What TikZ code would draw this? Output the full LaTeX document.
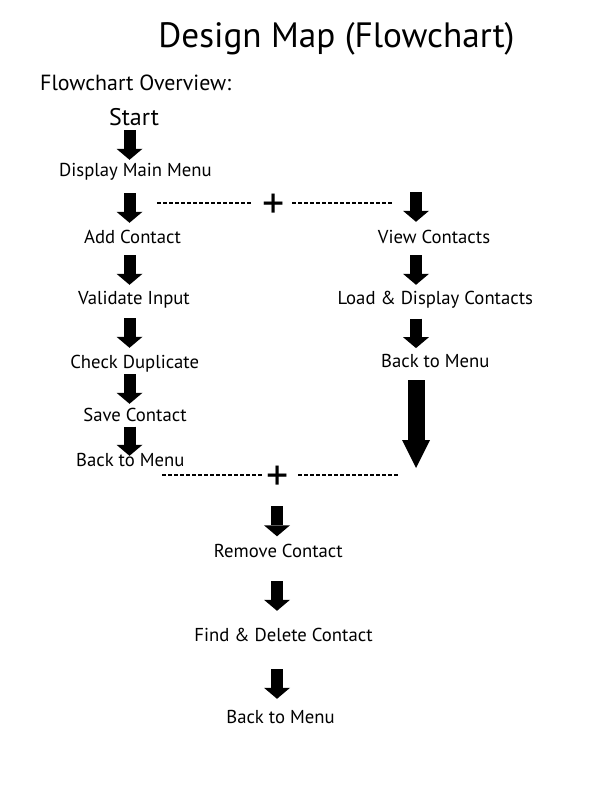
\documentclass[tikz,border=0pt]{standalone}
\usepackage{fontspec}
\setmainfont{PT Sans}
\usepackage{tikz}
\usetikzlibrary{arrows.meta}
\pgfdeclarelayer{bglayer}
\pgfdeclarelayer{edgelayer}
\pgfdeclarelayer{nodelayer}
\pgfsetlayers{bglayer,edgelayer,nodelayer,main}
\tikzstyle{none}=[inner sep=0pt]
\tikzstyle{heading}=[inner sep=0pt,anchor=base,font=\fontsize{35.2}{40}\selectfont]
\tikzstyle{subheading}=[inner sep=0pt,anchor=base west,font=\fontsize{21.9}{26}\selectfont]
\tikzstyle{starttext}=[inner sep=0pt,anchor=base,text height=18pt,text depth=5pt,font=\fontsize{24}{28}\selectfont]
\tikzstyle{flowtext}=[inner sep=0pt,anchor=base,text height=13pt,text depth=4pt,font=\fontsize{18.7}{23}\selectfont]
\tikzstyle{junction}=[inner sep=0pt,anchor=base,text depth=0pt,font=\fontsize{44}{50}\selectfont]
\tikzstyle{blockarrow}=[-{Triangle[width=26pt,length=11pt,line width=0pt]},line width=12pt]
\tikzstyle{bigarrow}=[-{Triangle[width=28pt,length=28pt,line width=0pt]},line width=17pt]
\tikzstyle{dashline}=[-,line width=1.2pt,dash pattern=on 4pt off 2pt]

\begin{document}
\begin{tikzpicture}[x=1pt,y=-1pt]
	\begin{pgfonlayer}{bglayer}
		\fill [white] (0,0) rectangle (612,792);
	\end{pgfonlayer}
	\useasboundingbox (0,0) rectangle (612,792);
	\begin{pgfonlayer}{nodelayer}
		\node [style=heading] (title) at (336.5, 48) {Design Map (Flowchart)};
		\node [style=subheading] (overview) at (40, 90.7) {Flowchart Overview:};

		% columns of the arrows
		\coordinate (L) at (129.5, 0);
		\coordinate (R) at (416, 0);
		\coordinate (C) at (277, 0);

		% left branch
		\node [style=starttext] (start) at (134, 125) {Start};
		\node [style=flowtext] (menu) at (135.5, 176) {Display Main Menu};
		\node [style=flowtext] (add) at (132.5, 243.5) {Add Contact};
		\node [style=flowtext] (validate) at (134, 304) {Validate Input};
		\node [style=flowtext] (check) at (134.7, 368) {Check Duplicate};
		\node [style=flowtext] (save) at (135, 421) {Save Contact};
		\node [style=flowtext] (backL) at (130.3, 466) {Back to Menu};

		% right branch
		\node [style=flowtext] (view) at (434, 243.5) {View Contacts};
		\node [style=flowtext] (load) at (435.3, 304) {Load \& Display Contacts};
		\node [style=flowtext] (backR) at (435.3, 367.5) {Back to Menu};
		\coordinate (rtop) at (416, 192);
		\coordinate (rend) at (416, 468);

		% joins
		\node [style=junction] (jtop) at (274, 218) {+};
		\coordinate (dtl) at (157, 203);
		\coordinate (dtr) at (393, 203);
		\node [style=junction] (jbot) at (278, 490) {+};
		\coordinate (dbl) at (162, 475);
		\coordinate (dbr) at (398, 475);

		% centre branch
		\node [style=flowtext] (remove) at (278.3, 557.5) {Remove Contact};
		\node [style=flowtext] (find) at (283.5, 641) {Find \& Delete Contact};
		\node [style=flowtext] (backC) at (280.5, 723) {Back to Menu};
	\end{pgfonlayer}
	\begin{pgfonlayer}{edgelayer}
		\draw [style=blockarrow, shorten >=3pt] (start.south -| L) to (menu.north -| L);
		\draw [style=blockarrow, shorten <=13pt, shorten >=7.5pt] (menu.south -| L) to (add.north -| L);
		\draw [style=blockarrow, shorten <=7.5pt, shorten >=6pt] (add.south -| L) to (validate.north -| L);
		\draw [style=blockarrow, shorten <=10pt, shorten >=7pt] (validate.south -| L) to (check.north -| L);
		\draw [style=blockarrow, shorten <=2pt, shorten >=4pt] (check.south -| L) to (save.north -| L);
		\draw [style=blockarrow, shorten <=1.5pt, shorten >=-3pt] (save.south -| L) to (backL.north -| L);

		\draw [style=blockarrow, shorten >=8.5pt] (rtop) to (view.north -| R);
		\draw [style=blockarrow, shorten <=7.5pt, shorten >=6pt] (view.south -| R) to (load.north -| R);
		\draw [style=blockarrow, shorten <=10.3pt, shorten >=6.2pt] (load.south -| R) to (backR.north -| R);
		\draw [style=bigarrow, shorten <=8.5pt] (backR.south -| R) to (rend);

		\draw [style=dashline, shorten >=12pt] (dtl) to (dtl -| jtop.west);
		\draw [style=dashline, shorten <=7pt] (jtop.east |- dtr) to (dtr);
		\draw [style=dashline, shorten >=5pt] (dbl) to (dbl -| jbot.west);
		\draw [style=dashline, shorten <=9pt] (jbot.east |- dbr) to (dbr);

		\draw [style=blockarrow, shorten <=16pt, shorten >=8pt] (jbot.south -| C) to (remove.north -| C);
		\draw [style=blockarrow, shorten <=19.5pt, shorten >=17pt] (remove.south -| C) to (find.north -| C);
		\draw [style=blockarrow, shorten <=24pt, shorten >=11pt] (find.south -| C) to (backC.north -| C);
	\end{pgfonlayer}
\end{tikzpicture}
\end{document}
